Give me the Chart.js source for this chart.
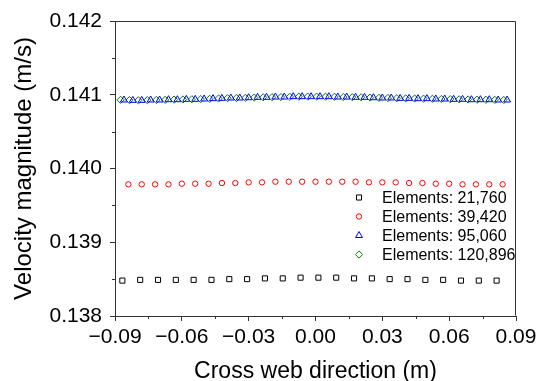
<!DOCTYPE html>
<html><head><meta charset="utf-8">
<script src="https://cdn.jsdelivr.net/npm/chart.js@4/dist/chart.umd.min.js"></script>
<style>html,body{margin:0;padding:0;background:#fff}#wrap{width:546px;height:381px}</style>
</head><body><div id="wrap"><canvas id="c" width="546" height="381"></canvas></div>
<script>
const seriesNames = ['Elements: 21,760', 'Elements: 39,420', 'Elements: 95,060', 'Elements: 120,896'];

const xE21760 = [-0.0867,-0.0787,-0.0707,-0.0627,-0.0547,-0.0467,-0.0387,-0.0307,-0.0227,-0.0147,-0.0067,0.0013,0.0093,0.0173,0.0253,0.0333,0.0413,0.0493,0.0573,0.0653,0.0733,0.0813];
const yE21760 = [0.13848,0.13849,0.13849,0.13849,0.13849,0.13849,0.13850,0.13850,0.13851,0.13851,0.13852,0.13852,0.13852,0.13851,0.13851,0.13850,0.13850,0.13849,0.13849,0.13848,0.13848,0.13848];

const xE39420 = [-0.084,-0.078,-0.072,-0.066,-0.060,-0.054,-0.048,-0.042,-0.036,-0.030,-0.024,-0.018,-0.012,-0.006,0.000,0.006,0.012,0.018,0.024,0.030,0.036,0.042,0.048,0.054,0.060,0.066,0.072,0.078,0.084];
const yE39420 = [0.139785,0.139785,0.139785,0.139785,0.139794,0.139794,0.139794,0.139803,0.139803,0.139812,0.139812,0.139821,0.139821,0.139821,0.139821,0.139821,0.139821,0.139821,0.139812,0.139812,0.139812,0.139803,0.139803,0.139794,0.139794,0.139785,0.139785,0.139785,0.139785];

const xE95060 = [-0.086,-0.082,-0.078,-0.074,-0.070,-0.066,-0.062,-0.058,-0.054,-0.050,-0.046,-0.042,-0.038,-0.034,-0.030,-0.026,-0.022,-0.018,-0.014,-0.010,-0.006,-0.002,0.002,0.006,0.010,0.014,0.018,0.022,0.026,0.030,0.034,0.038,0.042,0.046,0.050,0.054,0.058,0.062,0.066,0.070,0.074,0.078,0.082,0.086];
const yE95060 = [0.140929,0.140924,0.140924,0.140929,0.140929,0.140933,0.140933,0.140938,0.140938,0.140942,0.140947,0.140951,0.140956,0.140956,0.140960,0.140965,0.140965,0.140969,0.140969,0.140974,0.140974,0.140974,0.140974,0.140974,0.140969,0.140969,0.140965,0.140965,0.140960,0.140956,0.140956,0.140951,0.140951,0.140947,0.140947,0.140942,0.140942,0.140938,0.140938,0.140933,0.140933,0.140933,0.140929,0.140929];

const xE120896 = [-0.0875,-0.0835,-0.0795,-0.0755,-0.0715,-0.0675,-0.0635,-0.0595,-0.0555,-0.0515,-0.0475,-0.0435,-0.0395,-0.0355,-0.0315,-0.0275,-0.0235,-0.0195,-0.0155,-0.0115,-0.0075,-0.0035,0.0005,0.0045,0.0085,0.0125,0.0165,0.0205,0.0245,0.0285,0.0325,0.0365,0.0405,0.0445,0.0485,0.0525,0.0565,0.0605,0.0645,0.0685,0.0725,0.0765,0.0805,0.0845];
const yE120896 = [0.140931,0.140927,0.140925,0.140927,0.140929,0.140931,0.140934,0.140936,0.140939,0.140941,0.140945,0.140949,0.140953,0.140956,0.140958,0.140962,0.140965,0.140967,0.140969,0.140972,0.140974,0.140975,0.140975,0.140974,0.140972,0.140969,0.140967,0.140965,0.140962,0.140958,0.140956,0.140953,0.140951,0.140949,0.140947,0.140945,0.140942,0.140940,0.140938,0.140936,0.140933,0.140932,0.140931,0.140929];

const xTickValues = [-0.09, -0.06, -0.03, 0.00, 0.03, 0.06, 0.09];
const yTickValues = [0.138, 0.139, 0.140, 0.141, 0.142];
const xMinorTicks = [-0.075, -0.045, -0.015, 0.015, 0.045, 0.075];
const yMinorTicks = [0.1385, 0.1395, 0.1405, 0.1415];

const xTitle = 'Cross web direction (m)';
const yTitle = 'Velocity magnitude (m/s)';

function pts(xs, ys) { return xs.map((x, i) => ({x: x, y: ys[i]})); }

const FONT = 'Liberation Sans, Arial, sans-serif';
const AXIS = '#333333';

const styles = [
  {color: '#000000', shape: 'rect', r: 3.6},
  {color: '#ff0000', shape: 'circle', r: 2.7},
  {color: '#0000ff', shape: 'triangle', r: 4},
  {color: '#008000', shape: 'rectRot', r: 3.6}
];
const seriesX = [xE21760, xE39420, xE95060, xE120896];
const seriesY = [yE21760, yE39420, yE95060, yE120896];

const datasets = seriesNames.map((name, i) => ({
  label: name,
  data: pts(seriesX[i], seriesY[i]),
  showLine: false,
  pointStyle: styles[i].shape,
  pointRadius: styles[i].r,
  pointBorderWidth: 1,
  pointBorderColor: styles[i].color,
  pointBackgroundColor: 'rgba(0,0,0,0)',
  borderColor: styles[i].color,
  backgroundColor: 'rgba(0,0,0,0)'
}));

function fmtX(v) {
  if (Math.abs(v) < 1e-9) return '0.00';
  const s = Math.abs(v).toFixed(2);
  return v < 0 ? '\u2212' + s : s;
}

const framePlugin = {
  id: 'frame',
  afterDatasetsDraw(chart) {
    const ctx = chart.ctx, a = chart.chartArea;
    const xs = chart.scales.x, ys = chart.scales.y;
    ctx.save();
    ctx.strokeStyle = AXIS;
    ctx.lineWidth = 1;
    const L = Math.round(a.left) + 0.5, R = Math.round(a.right) - 0.5, T = Math.round(a.top) + 0.5, B = Math.round(a.bottom) - 0.5;
    ctx.beginPath();
    ctx.moveTo(L, T); ctx.lineTo(R, T); ctx.lineTo(R, B);
    ctx.stroke();
    ctx.beginPath();
    xMinorTicks.forEach(v => {
      const px = Math.round(xs.getPixelForValue(v)) + 0.5;
      ctx.moveTo(px, a.bottom); ctx.lineTo(px, a.bottom + 3);
    });
    yMinorTicks.forEach(v => {
      const py = Math.round(ys.getPixelForValue(v)) + 0.5;
      ctx.moveTo(a.left, py); ctx.lineTo(a.left - 3, py);
    });
    ctx.stroke();
    ctx.restore();
  },
  afterDraw(chart) {
    const ctx = chart.ctx, a = chart.chartArea;
    ctx.save();
    const mx = a.right - 157, tx = a.right - 134;
    const y0 = a.top + 176.5, dy = 19;
    chart.data.datasets.forEach((ds, i) => {
      const y = y0 + i * dy;
      ctx.strokeStyle = ds.pointBorderColor;
      ctx.fillStyle = 'rgba(0,0,0,0)';
      ctx.lineWidth = 1;
      Chart.helpers.drawPoint(ctx, {pointStyle: ds.pointStyle, radius: ds.pointRadius, borderWidth: 1, rotation: 0}, mx, y);
      ctx.fillStyle = '#000000';
      ctx.font = '16px ' + FONT;
      ctx.textAlign = 'left';
      ctx.textBaseline = 'middle';
      ctx.fillText(ds.label, tx, y + 1);
    });
    ctx.restore();
  }
};

new Chart(document.getElementById('c'), {
  type: 'scatter',
  data: {datasets: datasets},
  options: {
    responsive: false,
    devicePixelRatio: 1,
    animation: false,
    layout: {padding: {top: 21, right: 30, left: 0, bottom: 0}},
    plugins: {legend: {display: false}, tooltip: {enabled: false}},
    scales: {
      x: {
        type: 'linear', min: -0.09, max: 0.09,
        afterBuildTicks: s => { s.ticks = xTickValues.map(v => ({value: v})); },
        afterFit: s => { s.height = 65; },
        ticks: {callback: v => fmtX(v), autoSkip: false, maxRotation: 0, color: '#000', padding: 4, font: {family: FONT, size: 21}},
        grid: {drawOnChartArea: false, drawTicks: true, tickLength: 5, color: AXIS, tickColor: AXIS},
        border: {display: true, color: AXIS, width: 1},
        title: {display: true, text: xTitle, color: '#000', font: {family: FONT, size: 23, lineHeight: 1}, padding: {top: 0, bottom: -2.5}}
      },
      y: {
        type: 'linear', min: 0.138, max: 0.142,
        afterBuildTicks: s => { s.ticks = yTickValues.map(v => ({value: v})); },
        afterFit: s => { s.width = 115; },
        ticks: {callback: v => v.toFixed(3), autoSkip: false, color: '#000', padding: 8, font: {family: FONT, size: 21}},
        grid: {drawOnChartArea: false, drawTicks: true, tickLength: 5, color: AXIS, tickColor: AXIS},
        border: {display: true, color: AXIS, width: 1},
        title: {display: true, text: yTitle, color: '#000', font: {family: FONT, size: 24, lineHeight: 1}, padding: {top: 12, bottom: 0}}
      }
    }
  },
  plugins: [framePlugin]
});
</script>
</body></html>
